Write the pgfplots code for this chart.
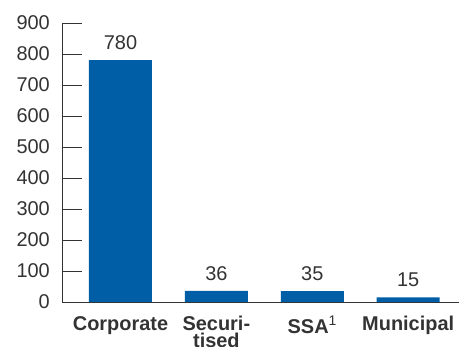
\documentclass[border=0pt]{standalone}
\usepackage{pgfplots}
\pgfplotsset{compat=1.18}
\usepackage{fontspec}
\setmainfont{Liberation Sans}
\definecolor{barblue}{RGB}{0,94,166}
\definecolor{txt}{RGB}{51,51,51}
\begin{document}
\begin{tikzpicture}
\useasboundingbox (-62bp,-45bp) rectangle (397bp,302bp);
\begin{axis}[
  at={(0,0)}, anchor=south west,
  scale only axis, width=397bp, height=279bp,
  xmin=-0.61, xmax=3.53, ymin=0, ymax=900,
  axis x line=bottom, axis y line=left,
  axis line style={-, draw=txt, line width=1bp},
  ytick={0,100,...,900},
  xtick={0,1,2,3},
  xticklabels={Corporate, {Securi-\\tised}, SSA\textsuperscript{\mdseries 1}, Municipal},
  major tick length=20bp, tick align=inside,
  y tick style={draw=txt, line width=1bp},
  x tick style={draw=none},
  /pgf/number format/assume math mode=true,
  /pgf/number format/fixed, /pgf/number format/precision=0,
  tick label style={font=\fontsize{20}{20}\selectfont, text=txt},
  yticklabel style={inner sep=0pt, xshift=-12bp},
  xticklabel style={font=\bfseries\fontsize{20}{17}\selectfont, align=center, anchor=north, inner sep=0pt, yshift=6bp},
  ybar, bar width=63bp,
  nodes near coords,
  nodes near coords style={font=\fontsize{20}{20}\selectfont, text=txt, anchor=south, inner sep=0pt, yshift=10bp},
]
\addplot[fill=barblue, draw=none] coordinates {(0,780) (1,36) (2,35) (3,15)};
\end{axis}
\end{tikzpicture}
\end{document}
